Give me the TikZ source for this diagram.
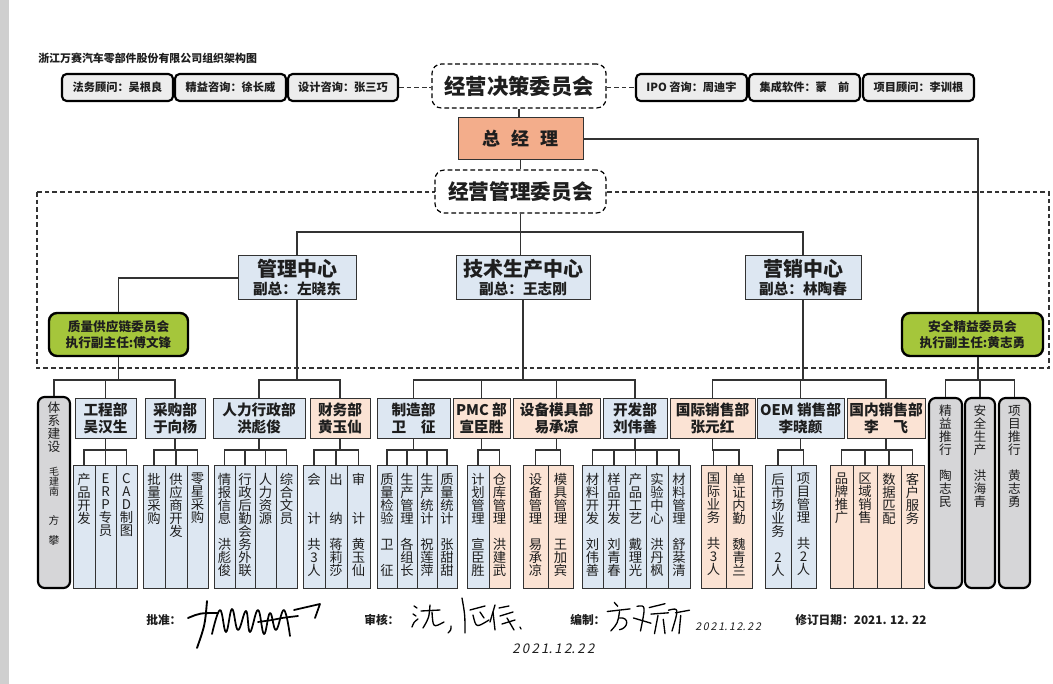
\documentclass[tikz,border=0pt]{standalone}
\usepackage{fontspec}
\setmainfont{Noto Sans CJK SC}
\newfontfamily\handfont[FakeSlant=0.2]{Noto Sans CJK SC}
\usetikzlibrary{calc}
\definecolor{bluef}{HTML}{DDE7F2}
\definecolor{orgf}{HTML}{FBE3D4}
\definecolor{zjlf}{HTML}{F3AD8B}
\definecolor{greenf}{HTML}{A5C63B}
\definecolor{grayf}{HTML}{D6D6D8}
\definecolor{advf}{HTML}{EDEDED}
\definecolor{lnc}{HTML}{333333}
\definecolor{txc}{HTML}{1E1E1E}
\definecolor{stripc}{HTML}{CFCFCF}
\tikzset{
 every node/.style={text=txc},
 ln/.style={draw=lnc, line width=0.8pt},
 plainbox/.style={draw=lnc, line width=0.75pt, inner sep=0pt, align=center},
 advbox/.style={draw=black, line width=1.6pt, rounded corners=3.5pt, fill=advf, inner sep=0pt, font=\fontsize{8.4}{10}\selectfont\bfseries},
 cmtbox/.style={draw=black, line width=0.9pt, dash pattern=on 3.5pt off 2.2pt, rounded corners=7pt, fill=white, inner sep=0pt, font=\fontsize{16}{18}\selectfont\bfseries},
 zjlbox/.style={plainbox, fill=zjlf, font=\fontsize{13.5}{15}\selectfont\bfseries},
 cenbox/.style={plainbox, fill=bluef, font=\fontsize{11}{13.5}\selectfont\bfseries},
 grnbox/.style={draw=black, line width=1.8pt, rounded corners=6pt, fill=greenf, inner sep=0pt, align=center, font=\fontsize{9.5}{12.4}\selectfont\bfseries},
 deptb/.style={plainbox, fill=bluef, font=\fontsize{11}{12.75}\selectfont\bfseries},
 depto/.style={plainbox, fill=orgf, font=\fontsize{11}{12.75}\selectfont\bfseries},
 subb/.style={plainbox, fill=bluef},
 subo/.style={plainbox, fill=orgf},
 tallbox/.style={draw=black, line width=1.6pt, rounded corners=5pt, fill=grayf, inner sep=0pt},
 vtxt/.style={anchor=north, inner sep=0pt, align=center, font=\fontsize{10}{9.75}\selectfont},
 sig/.style={draw=black, line width=1pt, line cap=round, line join=round},
 bigdash/.style={draw=lnc, line width=0.8pt, dash pattern=on 3.5pt off 2.2pt},
 signtxt/.style={anchor=west, inner sep=0pt, font=\fontsize{8.8}{10}\selectfont\bfseries},
}
\newcommand\bx[6]{\node[#1, minimum width={(#4-#2)*0.75pt}, minimum height={(#5-#3)*0.75pt}] (#6) at ({(#2+#4)/2},{(#3+#5)/2})}
\newcommand\sbx[5]{\bx{#1}{#2}{465}{#3}{588}{#4}{};\node[vtxt] at ($(#4.north)+(0,8.5)$) {#5};}
\newcommand\busconn[3]{\draw[ln] (#1.south) |- (#2.north |- #3) -- (#2.north);}
\begin{document}
\begin{tikzpicture}[x=0.75pt,y=-0.75pt]
\useasboundingbox (0,0) rectangle (1053,684);
\fill[white] (0,0) rectangle (1053,684);
\fill[stripc] (0,0) rectangle (9,684);
\coordinate (yb0) at (0,232);
\coordinate (yb1) at (0,380);
\coordinate (yb2) at (0,450);
% title
\node[anchor=west, inner sep=0pt, font=\fontsize{8.2}{10}\selectfont\bfseries] (title) at (38,58) {浙江万赛汽车零部件股份有限公司组织架构图};
% advisors
\bx{advbox}{62}{74}{173}{101}{fwgw} {法务顾问：吴根良};
\bx{advbox}{175}{74}{286}{101}{jyzx} {精益咨询：徐长威};
\bx{advbox}{288}{74}{398}{101}{sjzx} {设计咨询：张三巧};
\bx{advbox}{636}{74}{747}{101}{ipo} {IPO 咨询：周迪宇};
\bx{advbox}{749}{74}{860}{101}{jcrj} {集成软件：蒙\quad 前};
\bx{advbox}{863}{74}{974}{101}{xmgw} {项目顾问：李训根};
\bx{cmtbox}{432}{64}{606}{108}{jcwy} {经营决策委员会};
\draw[bigdash] (sjzx.east) -- (sjzx.east -| jcwy.west);
\draw[bigdash] (ipo.west -| jcwy.east) -- (ipo.west);
% general manager
\bx{zjlbox}{458}{118}{583}{160}{zjl} {总\hspace{0.6em}经\hspace{0.6em}理};
% big dashed frame
\draw[bigdash] (37,192) rectangle (1049,368);
\bx{cmtbox, font=\fontsize{15.5}{17}\selectfont\bfseries}{435}{170}{606}{213}{jgwy} {经营管理委员会};
% centers
\bx{cenbox}{238}{256}{356}{300}{glzx} {{\fontsize{15}{15}\selectfont 管理中心}\\副总：左晓东};
\bx{cenbox}{456}{256}{590}{300}{jszx} {{\fontsize{15}{15}\selectfont 技术生产中心}\\副总：王志刚};
\bx{cenbox}{745}{256}{861}{300}{yxzx} {{\fontsize{15}{15}\selectfont 营销中心}\\副总：林陶春};
% green committees
\bx{grnbox}{49}{313}{188}{356}{zlgy} {质量供应链委员会\\执行副主任:傅文锋};
\bx{grnbox}{902}{313}{1043}{356}{aqjy} {安全精益委员会\\执行副主任:黄志勇};
\coordinate (aqin) at ($(aqjy.north)+(5.5,0)$);
\coordinate (aqout) at ($(aqjy.south)+(5.5,0)$);
% departments
\bx{deptb}{75}{398}{136}{438}{gcb} {工程部\\吴汉生};
\bx{deptb}{145}{398}{205}{438}{cgb} {采购部\\于向杨};
\bx{deptb}{213}{398}{305}{438}{rlb} {人力行政部\\洪彪俊};
\bx{depto}{310}{398}{370}{438}{cwb} {财务部\\黄玉仙};
\bx{deptb}{377}{398}{450}{438}{zzb} {制造部\\卫\quad 征};
\bx{depto}{453}{398}{510}{438}{pmc} {PMC 部\\宣臣胜};
\bx{depto}{513}{398}{600}{438}{sbb} {设备模具部\\易承凉};
\bx{deptb}{603}{398}{667}{438}{kfb} {开发部\\刘伟善};
\bx{depto}{670}{398}{755}{438}{gjb} {国际销售部\\张元红};
\bx{deptb}{757}{398}{844}{438}{oem} {OEM 销售部\\李晓颜};
\bx{depto}{847}{398}{925}{438}{gnb} {国内销售部\\李\quad 飞};
% tall grey boxes
\bx{tallbox}{38}{397}{70}{588}{txjs} {};
\node[vtxt, font=\fontsize{9.5}{9.75}\selectfont] at (54,402) {体\\系\\建\\设};
\node[vtxt, font=\fontsize{7.5}{7.5}\selectfont] at (54,467) {毛\\建\\南};
\node[inner sep=0pt, font=\fontsize{8}{8}\selectfont] at (54,520) {方};
\node[inner sep=0pt, font=\fontsize{8}{8}\selectfont] at (54,540) {攀};
\bx{tallbox}{929}{398}{962}{588}{jytx} {};
\node[vtxt, font=\fontsize{9.5}{9.75}\selectfont] at ($(jytx.north)+(0,8)$) {精\\益\\推\\行\\~\\陶\\志\\民};
\bx{tallbox}{965}{398}{995}{588}{aqsc} {};
\node[vtxt, font=\fontsize{9.5}{9.75}\selectfont] at ($(aqsc.north)+(0,8)$) {安\\全\\生\\产\\~\\洪\\海\\青};
\bx{tallbox}{999}{398}{1030}{588}{xmtx} {};
\node[vtxt, font=\fontsize{9.5}{9.75}\selectfont] at ($(xmtx.north)+(0,8)$) {项\\目\\推\\行\\~\\黄\\志\\勇};
% sub boxes
\sbx{subb}{73}{95}{g1}{产\\品\\开\\发}
\sbx{subb}{95}{116}{g2}{E\\R\\P\\专\\员}
\sbx{subb}{116}{137}{g3}{C\\A\\D\\制\\图}
\sbx{subb}{143}{165}{c1}{批\\量\\采\\购}
\sbx{subb}{165}{187}{c2}{供\\应\\商\\开\\发}
\sbx{subb}{187}{208}{c3}{零\\星\\采\\购}
\sbx{subb}{214}{235}{r1}{情\\报\\信\\息\\~\\洪\\彪\\俊}
\sbx{subb}{235}{255}{r2}{行\\政\\后\\勤\\会\\务\\外\\联}
\sbx{subb}{255}{276}{r3}{人\\力\\资\\源}
\sbx{subb}{276}{297}{r4}{综\\合\\文\\员}
\sbx{subb}{303}{325}{f1}{会\\~\\~\\计\\~\\共\\3\\人}
\sbx{subb}{325}{347}{f2}{出\\~\\~\\纳\\~\\蒋\\莉\\莎}
\sbx{subb}{347}{370}{f3}{审\\~\\~\\计\\~\\黄\\玉\\仙}
\sbx{subb}{377}{397}{z1}{质\\量\\检\\验\\~\\卫\\~\\征}
\sbx{subb}{397}{417}{z2}{生\\产\\管\\理\\~\\各\\组\\长}
\sbx{subb}{417}{437}{z3}{生\\产\\统\\计\\~\\祝\\莲\\萍}
\sbx{subb}{437}{457}{z4}{质\\量\\统\\计\\~\\张\\甜\\甜}
\sbx{subb}{467}{489}{p1}{计\\划\\管\\理\\~\\宣\\臣\\胜}
\sbx{subo}{489}{510}{p2}{仓\\库\\管\\理\\~\\洪\\建\\武}
\sbx{subo}{523}{548}{s1}{设\\备\\管\\理\\~\\易\\承\\凉}
\sbx{subo}{548}{573}{s2}{模\\具\\管\\理\\~\\王\\加\\宾}
\sbx{subb}{582}{603}{k1}{材\\料\\开\\发\\~\\刘\\伟\\善}
\sbx{subb}{603}{625}{k2}{样\\品\\开\\发\\~\\刘\\青\\春}
\sbx{subb}{625}{646}{k3}{产\\品\\工\\艺\\~\\戴\\理\\光}
\sbx{subb}{646}{668}{k4}{实\\验\\中\\心\\~\\洪\\丹\\枫}
\sbx{subb}{668}{690}{k5}{材\\料\\管\\理\\~\\舒\\棻\\清}
\sbx{subo}{701}{726}{i1}{国\\际\\业\\务\\~\\共\\3\\人}
\sbx{subo}{726}{752}{i2}{单\\证\\内\\勤\\~\\魏\\青\\兰}
\sbx{subb}{765}{791}{o1}{后\\市\\场\\业\\务\\~\\2\\人}
\sbx{subb}{791}{816}{o2}{项\\目\\管\\理\\~\\共\\2\\人}
\sbx{subo}{830}{853}{d1}{品\\牌\\推\\广}
\sbx{subo}{853}{877}{d2}{区\\域\\销\\售}
\sbx{subo}{877}{901}{d3}{数\\据\\匹\\配}
\sbx{subo}{901}{924}{d4}{客\\户\\服\\务}
% top connectors
\draw[ln] (jcwy.south) -- (jcwy.south |- zjl.north);
\draw[ln] (zjl.south) -- (zjl.south |- jgwy.north);
\draw[ln] (jgwy.south) |- (glzx.north |- yb0) -- (glzx.north);
\draw[ln] (jgwy.south) |- (yxzx.north |- yb0) -- (yxzx.north);
\draw[ln] (jgwy.south) -- (jgwy.south |- jszx.north);
\draw[ln] (zjl.east) -| (aqin);
\draw[ln] (glzx.west) -| (zlgy.north);
% department connectors
\busconn{zlgy}{txjs}{yb1}
\busconn{zlgy}{gcb}{yb1}
\busconn{zlgy}{cgb}{yb1}
\busconn{glzx}{rlb}{yb1}
\busconn{glzx}{cwb}{yb1}
\busconn{jszx}{zzb}{yb1}
\busconn{jszx}{pmc}{yb1}
\busconn{jszx}{sbb}{yb1}
\busconn{jszx}{kfb}{yb1}
\busconn{yxzx}{gjb}{yb1}
\busconn{yxzx}{oem}{yb1}
\busconn{yxzx}{gnb}{yb1}
\draw[ln] (aqout) |- (jytx.north |- yb1) -- (jytx.north);
\draw[ln] (aqout) |- (aqsc.north |- yb1) -- (aqsc.north);
\draw[ln] (aqout) |- (xmtx.north |- yb1) -- (xmtx.north);
% sub connectors
\busconn{gcb}{g1}{yb2}\busconn{gcb}{g2}{yb2}\busconn{gcb}{g3}{yb2}
\busconn{cgb}{c1}{yb2}\busconn{cgb}{c2}{yb2}\busconn{cgb}{c3}{yb2}
\busconn{rlb}{r1}{yb2}\busconn{rlb}{r2}{yb2}\busconn{rlb}{r3}{yb2}\busconn{rlb}{r4}{yb2}
\busconn{cwb}{f1}{yb2}\busconn{cwb}{f2}{yb2}\busconn{cwb}{f3}{yb2}
\busconn{zzb}{z1}{yb2}\busconn{zzb}{z2}{yb2}\busconn{zzb}{z3}{yb2}\busconn{zzb}{z4}{yb2}
\busconn{pmc}{p1}{yb2}\busconn{pmc}{p2}{yb2}
\busconn{sbb}{s1}{yb2}\busconn{sbb}{s2}{yb2}
\busconn{kfb}{k1}{yb2}\busconn{kfb}{k2}{yb2}\busconn{kfb}{k3}{yb2}\busconn{kfb}{k4}{yb2}\busconn{kfb}{k5}{yb2}
\busconn{gjb}{i1}{yb2}\busconn{gjb}{i2}{yb2}
\busconn{oem}{o1}{yb2}\busconn{oem}{o2}{yb2}
\busconn{gnb}{d1}{yb2}\busconn{gnb}{d2}{yb2}\busconn{gnb}{d3}{yb2}\busconn{gnb}{d4}{yb2}
% signature row
\node[signtxt] (pz) at (146,620) {批准：};
\node[signtxt] (sh) at (364,620) {审核：};
\node[signtxt] (bz) at (570,620) {编制：};
\node[signtxt] (xd) at (795,620) {修订日期：2021. 12. 22};
\node[anchor=west, inner sep=0pt, font=\handfont\fontsize{10}{12}\selectfont] (dt1) at (512,649) {2\,0\,2\,1.\,1\,2.\,2\,2};
\node[anchor=west, inner sep=0pt, font=\handfont\fontsize{8}{9}\selectfont] (dt2) at (695,627) {2\,0\,2\,1.\,1\,2.\,2\,2};
% signature 1
\draw[sig, line width=1.4pt] (188,618) .. controls (200,613) .. (218,613);
\draw[sig, line width=1.4pt] (207,601) .. controls (205,625) .. (197,648);
\draw[sig, line width=1.3pt] plot[smooth, tension=0.7] coordinates {(212,634) (220,610) (226,632) (232,609) (238,630) (246,611) (250,632) (258,610) (264,634) (270,613) (276,630) (284,610) (290,636)};
\draw[sig, line width=1.3pt] plot[smooth] coordinates {(258,622) (272,620) (282,618) (298,616)};
\draw[sig, line width=1.3pt] (294,610) -- (320,604) -- (315,618);
% signature 2
\draw[sig] (414,606) -- (417,608);
\draw[sig] (413,614) -- (416,616);
\draw[sig] (412,627) .. controls (414,622) .. (418,619);
\draw[sig] (421,611) -- (440,610);
\draw[sig] (430,605) .. controls (429,618) .. (423,628);
\draw[sig] (432,612) .. controls (433,628) .. (444,622);
\draw[sig] (451,626) .. controls (451,630) .. (448,633);
\draw[sig] (462,598) .. controls (465,615) .. (465,633);
\draw[sig] (470,610) -- (485,606);
\draw[sig] (473,615) .. controls (476,628) .. (489,620);
\draw[sig] (480,612) -- (484,618);
\draw[sig] (495,605) .. controls (493,614) .. (490,622);
\draw[sig] (493,612) -- (495,630);
\draw[sig] (499,608) -- (509,606);
\draw[sig] (500,616) -- (513,612);
\draw[sig] (502,624) -- (515,620);
\draw[sig] (507,618) -- (514,630);
\draw[sig] (520,627) -- (521,629);
% signature 3
\begin{scope}[xshift=-446.25pt, yshift=139.05pt, xscale=1.75, yscale=1.3]
\draw[sig] (691,606) -- (693,609);
\draw[sig] (687,613) -- (700,611);
\draw[sig] (694,613) .. controls (693,622) .. (689,628);
\draw[sig] (694,618) .. controls (700,617) and (699,626) .. (694,627);
\draw[sig] (704,609) .. controls (709,608) .. (706,628);
\draw[sig] (702,618) -- (712,622);
\draw[sig] (711,610) -- (720,607);
\draw[sig] (712,615) -- (722,614);
\draw[sig] (716,616) -- (714,630);
\draw[sig] (719,619) -- (720,630);
\draw[sig] (722,612) .. controls (728,610) .. (724,628);
\draw[sig] (726,614) -- (734,612);
\draw[sig] (729,616) -- (728,630);
\end{scope}
\end{tikzpicture}
\end{document}
